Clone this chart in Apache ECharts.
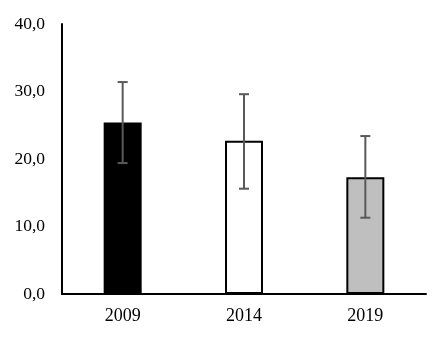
<!DOCTYPE html>
<html><head><meta charset="utf-8">
<script src="https://cdn.jsdelivr.net/npm/echarts@6/dist/echarts.min.js"></script>
<style>html,body{margin:0;padding:0;background:#fff}#c{width:448px;height:339px}</style>
</head><body><div id="c"></div>
<script>
var categories = ['2009', '2014', '2019'];
var means = [25.4, 22.7, 17.3];
var errLow = [19.4, 15.6, 11.3];
var errHigh = [31.4, 29.6, 23.4];
var fills = ['#000000', '#ffffff', '#bfbfbf'];
var yTicks = [0, 10, 20, 30, 40];

var chart = echarts.init(document.getElementById('c'));
var font = '"Liberation Serif", "Times New Roman", serif';
chart.setOption({
  animation: false,
  grid: {left: 62, right: 22, top: 24, bottom: 45},
  xAxis: {
    type: 'category', data: categories,
    axisLine: {lineStyle: {color: '#000', width: 2}},
    axisTick: {show: false},
    axisLabel: {color: '#000', fontFamily: font, fontSize: 18, margin: 13}
  },
  yAxis: {
    type: 'value', min: yTicks[0], max: yTicks[yTicks.length - 1], interval: 10,
    axisLine: {show: true, lineStyle: {color: '#000', width: 2}},
    axisTick: {show: false},
    splitLine: {show: false},
    axisLabel: {color: '#000', fontFamily: font, fontSize: 17.5, margin: 17,
      formatter: function (v) { return v.toFixed(1).replace('.', ','); }}
  },
  series: [{
    type: 'bar', barWidth: 38,
    data: means.map(function (v, i) {
      return {value: v, itemStyle: {color: fills[i], borderColor: '#000', borderWidth: 2}};
    }),
    z: 2
  }, {
    type: 'custom', z: 3,
    data: categories.map(function (c, i) { return [i, errLow[i], errHigh[i]]; }),
    renderItem: function (params, api) {
      var lo = api.coord([api.value(0), api.value(1)]);
      var hi = api.coord([api.value(0), api.value(2)]);
      var hw = 5;
      var st = {stroke: '#595959', lineWidth: 2};
      return {type: 'group', children: [
        {type: 'line', shape: {x1: lo[0], y1: lo[1], x2: hi[0], y2: hi[1]}, style: st},
        {type: 'line', shape: {x1: lo[0] - hw, y1: lo[1], x2: lo[0] + hw, y2: lo[1]}, style: st},
        {type: 'line', shape: {x1: hi[0] - hw, y1: hi[1], x2: hi[0] + hw, y2: hi[1]}, style: st}
      ]};
    }
  }]
});
</script></body></html>
